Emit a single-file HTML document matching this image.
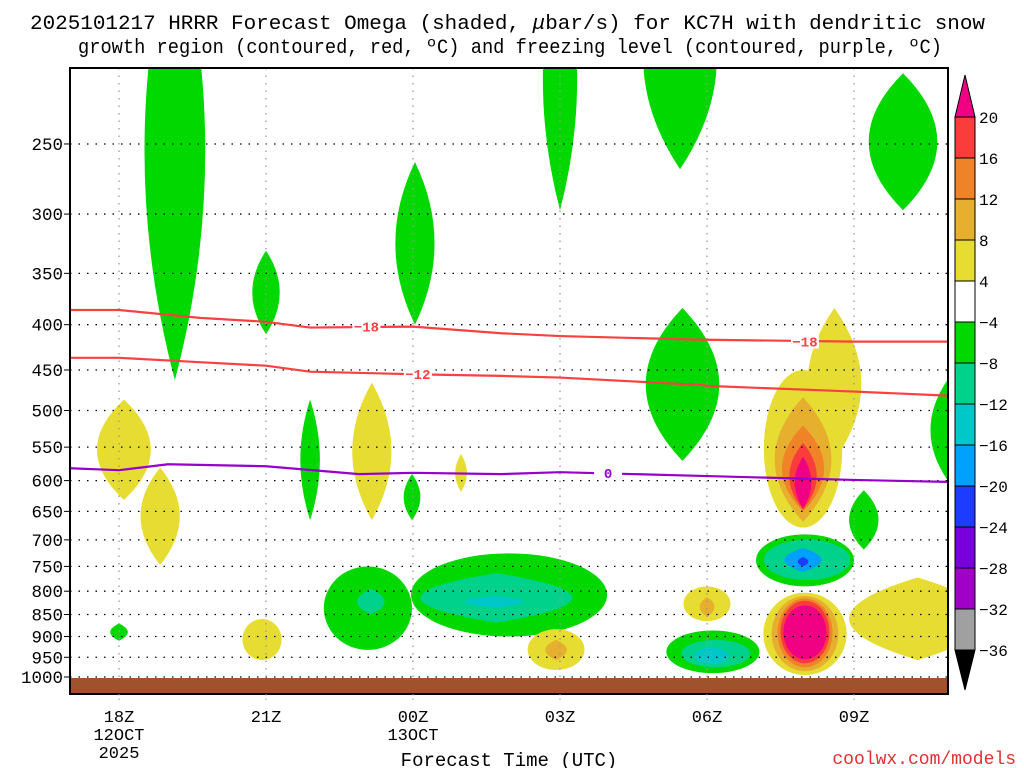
<!DOCTYPE html>
<html><head><meta charset="utf-8"><style>
body{margin:0;background:#fff;width:1024px;height:768px;overflow:hidden}
svg{display:block}
text{font-family:"Liberation Mono",monospace}
</style></head><body>
<svg id="c" width="1024" height="768">
<text x="30" y="29" font-size="20.5" textLength="955" lengthAdjust="spacingAndGlyphs">2025101217 HRRR Forecast Omega (shaded, <tspan font-style="italic">μ</tspan>bar/s) for KC7H with dendritic snow</text>
<text x="78" y="53" font-size="20.5" textLength="864" lengthAdjust="spacingAndGlyphs">growth region (contoured, red, ºC) and freezing level (contoured, purple, ºC)</text>
<defs><clipPath id="pc"><rect x="70" y="68" width="878" height="626"/></clipPath></defs>
<g id="shade" clip-path="url(#pc)"></g>
<g id="grid"></g>
<rect x="70" y="678" width="878" height="16" fill="#a0522d"/>
<g id="lines" clip-path="url(#pc)"></g>
<rect x="70" y="68" width="878" height="626" fill="none" stroke="#000" stroke-width="2"/>
<g id="axes"></g>
<g id="cbar"></g>
<text x="509" y="766" text-anchor="middle" font-size="19">Forecast Time (UTC)</text>
<text x="1016" y="764" text-anchor="end" font-size="18" fill="#e03030">coolwx.com/models</text>
</svg>
<script>
// Axis tick data
const pressureTicks=[250,300,350,400,450,500,550,600,650,700,750,800,850,900,950,1000];
const timeTicks=[18,21,24,27,30,33];
const timeLabels=[["18Z","12OCT","2025"],["21Z"],["00Z","13OCT"],["03Z"],["06Z"],["09Z"]];
// Contour lines: hours and pressure values
const lineHours=[17,18,19.65,21,21.9,24,25.8,27,29.9,30,33,34.9];
const dgzTop=[385,385,393,397,403,402,409,412,416,416,418,418];
const dgzBot=[436,436,441,445,452,455,457,459,468,469,476,481];
const frzHours=[17,18,19,21,22.9,24,25.8,27,30,33,34.9];
const frzLevel=[581,584,575,578,590,588,590,587,593,599,602];
// Omega blobs: [hour, halfWidthHours, pTop, pBottom, colorIndex, shape]
const blobs=[
[19.14,0.62,140,462,5,'l'],[21.0,0.28,330,410,5,'l'],[24.04,0.4,262,400,5,'l'],
[27.0,0.35,150,297,5,'l'],[29.45,0.75,150,267,5,'l'],[34.0,0.7,208,297,5,'l'],
[29.5,0.75,383,570,5,'l'],[35.06,0.5,450,615,5,'l'],[21.9,0.2,486,665,5,'l'],[23.98,0.17,590,665,5,'l'],
[23.16,0.4,465,665,3,'l'],[18.1,0.55,486,631,3,'l'],[18.84,0.4,580,747,3,'l'],[24.98,0.12,560,618,3,'l'],
[20.92,0.4,860,957,3,'e'],[18.0,0.18,870,910,5,'l'],
[23.08,0.9,750,932,5,'e'],[25.96,2.0,725,900,5,'e'],[25.7,1.55,763,868,6,'l'],[23.14,0.28,795,850,6,'l'],[25.65,0.6,810,835,7,'l'],
[26.92,0.58,883,982,3,'e'],[26.92,0.22,908,957,2,'l'],
[30.0,0.48,790,865,3,'e'],[30.0,0.15,812,855,2,'l'],
[30.12,0.95,886,990,5,'e'],[30.18,0.7,908,975,6,'e'],[30.1,0.35,927,966,7,'e'],
[34.3,1.4,772,957,3,'l'],
[32.6,0.55,383,569,3,'l'],[31.96,0.8,450,678,3,'e'],[31.96,0.58,483,668,2,'l'],[31.96,0.43,520,650,1,'l'],[31.96,0.28,544,647,0,'l'],[31.96,0.17,564,645,12,'l'],
[33.2,0.3,615,718,5,'l'],[32.0,1.0,690,790,5,'e'],[32.04,0.88,700,777,6,'e'],[31.96,0.38,715,761,8,'l'],[31.96,0.11,732,750,9,'l'],
[32.0,0.85,803,995,3,'e'],[32.0,0.68,810,985,2,'e'],[32.0,0.56,815,975,1,'e'],[32.0,0.5,820,965,0,'e'],[32.0,0.44,830,955,12,'e']
];
const colors=["#fa3c3c","#f08228","#e6af2d","#e6dc32","#ffffff","#00d800","#00d28c","#00c8c8","#00a0ff","#1e3cff","#7800dc","#a000c8","#f00082","#a0a0a0","#000000"];
const cbarLabels=["20","16","12","8","4","−4","−8","−12","−16","−20","−24","−28","−32","−36"];
const cbarColors=[0,1,2,3,4,5,6,7,8,9,10,11,13];

const NS="http://www.w3.org/2000/svg";
const X=h=>119+(h-18)*49;
const Y=p=>677-384.5*Math.log(1000/p);
function mk(tag,attrs,parent){const e=document.createElementNS(NS,tag);for(const k in attrs)e.setAttribute(k,attrs[k]);parent.appendChild(e);return e;}
const shade=document.getElementById('shade'),grid=document.getElementById('grid'),lines=document.getElementById('lines'),axes=document.getElementById('axes'),cbar=document.getElementById('cbar');

blobs.forEach(b=>{
  const cx=X(b[0]),w=b[1]*49,y1=Y(b[2]),y2=Y(b[3]),ym=(y1+y2)/2;let el;
  if(b[5]==='e'){el=mk('ellipse',{cx:cx,cy:ym,rx:w,ry:(y2-y1)/2,fill:colors[b[4]]},shade);}
  else{el=mk('path',{d:`M${cx},${y1}Q${cx+2*w},${ym} ${cx},${y2}Q${cx-2*w},${ym} ${cx},${y1}Z`,fill:colors[b[4]]},shade);}
  
  
});

pressureTicks.forEach(p=>{
  const y=Y(p);
  const l=mk('line',{x1:70,x2:948,y1:y,y2:y,stroke:'#000','stroke-width':1.3,'stroke-dasharray':'1.5 7'},grid);
  
  
  const t=mk('text',{x:63,y:y+6,'text-anchor':'end','font-size':17.5},axes);t.textContent=p;
  
  
  mk('line',{x1:64,x2:70,y1:y,y2:y,stroke:'#000'},axes);
});
timeTicks.forEach((h,i)=>{
  const x=X(h);
  const l=mk('line',{x1:x,x2:x,y1:68,y2:678,stroke:'#999','stroke-width':1.3,'stroke-dasharray':'1.5 6'},grid);
  
  
  mk('line',{x1:x,x2:x,y1:694,y2:702,stroke:'#999','stroke-dasharray':'1.5 3'},axes);
  timeLabels[i].forEach((s,j)=>{const t=mk('text',{x:x,y:722+j*18,'text-anchor':'middle','font-size':17},axes);t.textContent=s;
    
    });
});

function drawLine(hs,ps,color,name){
  const d=hs.map((h,i)=>(i?'L':'M')+X(h)+','+Y(ps[i])).join('');
  const l=mk('path',{d:d,fill:'none',stroke:color,'stroke-width':2.2},lines);
  
  
}
drawLine(lineHours,dgzTop,'#fa4040','dgz-minus18-line');
drawLine(lineHours,dgzBot,'#fa4040','dgz-minus12-line');
drawLine(frzHours,frzLevel,'#9600c8','freezing-level-line');
function lbl(h,p,s,c){const x=X(h),y=Y(p);
  mk('rect',{x:x-14,y:y-7,width:28,height:14,fill:'#fff'},lines);
  const t=mk('text',{x:x,y:y+5,'text-anchor':'middle','font-size':14,'font-weight':'bold',fill:c},lines);t.textContent=s;
  
  }
lbl(23.05,402,'−18','#fa4040');lbl(32.0,418,'−18','#fa4040');lbl(24.1,455,'−12','#fa4040');lbl(27.98,588,'0','#9600c8');

// colorbar
const cbX=955,cbW=20,cbTop=117,cbH=41;
mk('path',{d:`M${cbX},${cbTop}L${cbX+cbW/2},75L${cbX+cbW},${cbTop}Z`,fill:'#f00082',stroke:'#000'},cbar);
cbarColors.forEach((ci,i)=>{const r=mk('rect',{x:cbX,y:cbTop+i*cbH,width:cbW,height:cbH,fill:colors[ci],stroke:'#000','stroke-width':1},cbar);
  
  });
const cbBot=cbTop+cbarColors.length*cbH;
mk('path',{d:`M${cbX},${cbBot}L${cbX+cbW/2},690L${cbX+cbW},${cbBot}Z`,fill:'#000',stroke:'#000'},cbar);
cbarLabels.forEach((s,i)=>{const t=mk('text',{x:979,y:cbTop+i*cbH+6,'font-size':16},cbar);t.textContent=s;
  
  });
</script>
</body></html>
